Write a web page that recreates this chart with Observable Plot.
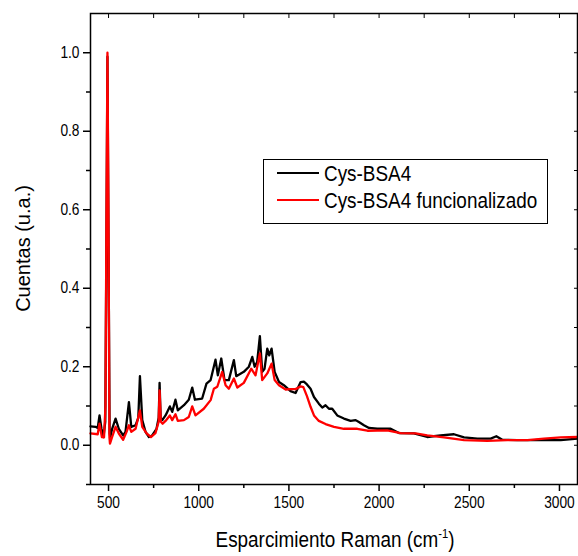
<!DOCTYPE html>
<html>
<head>
<meta charset="utf-8">
<script src="https://cdn.jsdelivr.net/npm/d3@7"></script>
<script src="https://cdn.jsdelivr.net/npm/@observablehq/plot@0.6"></script>
<style>
  html, body { margin: 0; padding: 0; background: #fff; }
</style>
</head>
<body>
<div id="chart"></div>
<script>
// Raman shift (cm^-1) and normalized counts
const blackX = [400,428,440,450,461,472,482,488,494,500,506,510,520,539,557,581,594,613,626,650,665,674,687,705,724,742,766,778,783,789,798,816,840,853,871,884,918,945,964,979,1019,1043,1066,1093,1106,1125,1143,1167,1195,1208,1250,1278,1297,1310,1324,1339,1352,1365,1380,1391,1404,1421,1445,1472,1509,1537,1565,1583,1600,1620,1639,1666,1685,1703,1722,1740,1768,1805,1842,1870,1888,1916,1944,1990,2064,2110,2193,2267,2341,2415,2471,2545,2619,2650,2683,2766,2859,2933,3007,3100];
const blackY = [0.048,0.047,0.044,0.076,0.042,0.021,0.06,0.5,0.99,0.5,0.03,0.021,0.042,0.068,0.042,0.025,0.034,0.11,0.047,0.051,0.07,0.176,0.064,0.034,0.021,0.025,0.042,0.07,0.159,0.07,0.064,0.076,0.099,0.085,0.116,0.089,0.102,0.116,0.147,0.116,0.119,0.157,0.166,0.218,0.178,0.221,0.166,0.166,0.217,0.176,0.187,0.2,0.225,0.2,0.212,0.278,0.187,0.195,0.246,0.229,0.246,0.187,0.161,0.153,0.138,0.133,0.161,0.162,0.155,0.144,0.123,0.106,0.096,0.102,0.093,0.093,0.076,0.068,0.062,0.064,0.059,0.051,0.044,0.042,0.042,0.031,0.030,0.021,0.025,0.028,0.020,0.017,0.017,0.023,0.014,0.013,0.013,0.014,0.013,0.017];

const redX = [400,440,450,463,475,483,488,494,500,505,508,520,539,557,581,600,613,626,650,674,687,711,735,760,778,783,790,800,816,840,853,871,884,918,945,964,982,1028,1066,1084,1103,1130,1149,1167,1195,1214,1250,1291,1315,1339,1352,1380,1404,1421,1445,1482,1509,1537,1565,1580,1600,1620,1639,1666,1703,1750,1805,1879,1935,2045,2119,2203,2267,2360,2471,2600,2711,2822,2914,3007,3100];
const redY = [0.030,0.028,0.055,0.021,0.02,0.1,0.55,1.0,0.55,0.02,0.004,0.021,0.047,0.030,0.014,0.034,0.051,0.034,0.042,0.089,0.047,0.030,0.021,0.031,0.06,0.14,0.06,0.055,0.062,0.076,0.064,0.079,0.062,0.064,0.072,0.099,0.076,0.093,0.115,0.144,0.149,0.187,0.153,0.144,0.170,0.147,0.159,0.195,0.178,0.234,0.166,0.183,0.208,0.166,0.153,0.142,0.143,0.143,0.150,0.148,0.125,0.098,0.076,0.062,0.054,0.047,0.042,0.042,0.037,0.038,0.031,0.030,0.025,0.020,0.013,0.011,0.013,0.013,0.017,0.020,0.021];

const seriesNames = ["Cys-BSA4", "Cys-BSA4 funcionalizado"];
const seriesColors = ["#000000", "#ff0000"];

const xMajor = [500, 1000, 1500, 2000, 2500, 3000];
const xMinor = [750, 1250, 1750, 2250, 2750];
const yMajor = [0.0, 0.2, 0.4, 0.6, 0.8, 1.0];
const yMinor = [-0.1, 0.1, 0.3, 0.5, 0.7, 0.9];

const black = blackX.map((x, i) => ({x, y: blackY[i]}));
const red = redX.map((x, i) => ({x, y: redY[i]}));

const sans = "'Liberation Sans', Arial, sans-serif";
const SX = 0.86; // horizontal squeeze of the reference's glyphs

const W = 578, H = 556;
const mL = 90, mR = 1, mT = 13, mB = 72;

const plot = Plot.plot({
  width: W, height: H,
  marginLeft: mL, marginRight: mR, marginTop: mT, marginBottom: mB,
  x: {domain: [400, 3100]},
  y: {domain: [-0.1, 1.1]},
  style: {fontFamily: sans, fontSize: "16px", color: "#000", background: "#fff"},
  marks: [
    Plot.axisX({ticks: xMajor, tickSize: 7, tickPadding: 5, tickFormat: d3.format("d"), label: null, strokeWidth: 1.5}),
    Plot.axisX({ticks: xMinor, tickSize: 4, tickFormat: () => "", label: null, strokeWidth: 1.5}),
    Plot.axisX({anchor: "top", ticks: xMajor.concat(xMinor), tickSize: -4, tickFormat: () => "", label: null, strokeWidth: 1}),
    Plot.axisY({ticks: yMajor, tickSize: 7, tickPadding: 4, tickFormat: d3.format(".1f"), label: null, strokeWidth: 1.5}),
    Plot.axisY({ticks: yMinor, tickSize: 4, tickFormat: () => "", label: null, strokeWidth: 1.5}),
    Plot.axisY({anchor: "right", ticks: yMajor.concat(yMinor), tickSize: -4, tickFormat: () => "", label: null, strokeWidth: 1}),
    Plot.line(black, {x: "x", y: "y", stroke: seriesColors[0], strokeWidth: 2.3}),
    Plot.line(red, {x: "x", y: "y", stroke: seriesColors[1], strokeWidth: 2.3}),
    Plot.frame({stroke: "#000", strokeWidth: 1.5})
  ]
});

const svg = d3.select(plot);

// tick labels: size and horizontal squeeze like the reference
svg.selectAll('g[aria-label$="tick label"]').each(function() {
  this.setAttribute("font-size", "16");
  this.style.fontSize = "16px";
  this.style.fontFamily = sans;
});
svg.selectAll('g[aria-label$="tick label"] text').each(function() {
  this.style.fontSize = "16px";
  const t = this.getAttribute("transform");
  if (t) {
    this.setAttribute("transform", t + ` scale(${SX},1)`);
  } else {
    const x = +this.getAttribute("x") || 0, y = +this.getAttribute("y") || 0;
    this.removeAttribute("x"); this.removeAttribute("y");
    this.setAttribute("transform", `translate(${x},${y}) scale(${SX},1)`);
  }
});

// Y axis title
svg.append("text")
  .attr("transform", `translate(30, ${(mT + H - mB) / 2}) rotate(-90)`)
  .attr("text-anchor", "middle")
  .attr("font-family", sans)
  .attr("font-size", 20)
  .attr("fill", "#000")
  .text("Cuentas (u.a.)");

// X axis title with superscript
const xt = svg.append("text")
  .attr("transform", `translate(335, 547) scale(${SX},1)`)
  .attr("text-anchor", "middle")
  .attr("font-family", sans)
  .attr("font-size", 22)
  .attr("fill", "#000");
xt.append("tspan").text("Esparcimiento Raman (cm");
xt.append("tspan").attr("font-size", 13).attr("dy", -9).text("-1");
xt.append("tspan").attr("dy", 9).text(")");

// Legend
const lg = svg.append("g");
lg.append("rect").attr("x", 263.5).attr("y", 159.5).attr("width", 284).attr("height", 64)
  .attr("fill", "#fff").attr("stroke", "#000").attr("stroke-width", 1);
seriesNames.forEach((name, i) => {
  const yy = 173 + i * 27;
  lg.append("line").attr("x1", 277).attr("x2", 319).attr("y1", yy).attr("y2", yy)
    .attr("stroke", seriesColors[i]).attr("stroke-width", 2);
  lg.append("text")
    .attr("transform", `translate(324, ${yy}) scale(${SX},1)`)
    .attr("dy", "0.36em")
    .attr("text-anchor", "start")
    .attr("font-family", sans).attr("font-size", 22).attr("fill", "#000")
    .text(name);
});

document.getElementById("chart").appendChild(plot);
</script>
</body>
</html>
